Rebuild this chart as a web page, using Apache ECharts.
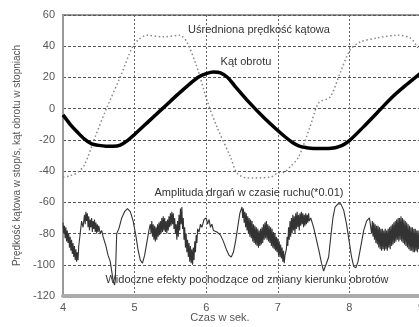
<!DOCTYPE html>
<html>
<head>
<meta charset="utf-8">
<script src="https://cdn.jsdelivr.net/npm/echarts@6/dist/echarts.min.js"></script>
<style>
  html, body { margin: 0; padding: 0; background: #fff; }
  #chart { width: 419px; height: 327px; }
</style>
</head>
<body>
<div id="chart"></div>
<script>
// x axis (seconds) and y axis (degrees) ticks
const xTicks = [4, 5, 6, 7, 8, 9]
const yTicks = [-120, -100, -80, -60, -40, -20, 0, 20, 40, 60]

// Kąt obrotu (thick black line)
const angleTime = [4.0, 4.1, 4.2, 4.3, 4.4, 4.5, 4.6, 4.7, 4.8, 4.9, 5.0, 5.2, 5.4, 5.6, 5.8, 5.9, 6.0, 6.1, 6.2, 6.3, 6.4, 6.6, 6.8, 7.0, 7.1, 7.2, 7.3, 7.4, 7.5, 7.6, 7.7, 7.8, 7.9, 8.0, 8.2, 8.4, 8.6, 8.8, 9.0]
const angleDeg = [-4, -10, -15, -19.5, -22.5, -23.5, -24, -24, -23.3, -20.5, -16.5, -8, 0.5, 9, 17, 20.5, 22.5, 23.5, 23, 20, 14.5, 4, -5.5, -14, -18, -21.5, -24, -25, -25.5, -25.5, -25.5, -25, -23.5, -20.5, -11.5, -2, 7.5, 15.5, 23]

// Uśredniona prędkość kątowa (dotted grey line)
const speedTime = [4.0, 4.1, 4.2, 4.3, 4.45, 4.61, 4.8, 4.97, 5.05, 5.17, 5.4, 5.63, 5.73, 5.87, 6.01, 6.15, 6.34, 6.43, 6.57, 6.9, 7.0, 7.1, 7.17, 7.29, 7.45, 7.57, 7.73, 7.87, 8.01, 8.15, 8.39, 8.67, 8.85, 8.95, 9.0]
const speedVal = [-44, -43, -41, -36, -18, 0.4, 20.3, 39.5, 44, 47, 46, 47, 42.7, 26.7, 5.5, -11.7, -31, -41.2, -44.4, -43.8, -41.2, -40.5, -37.4, -31, -11.7, 3.6, 7.5, 22.8, 37.6, 42.7, 45.3, 47, 45.3, 39.5, 36]

// Amplituda drgań w czasie ruchu (*0.01)
const vibTime = [
  4.00, 4.01, 4.02, 4.03, 4.04, 4.05, 4.06, 4.07, 4.08, 4.09, 4.10, 4.11, 4.12, 4.13, 4.14, 4.15, 4.16, 4.17, 4.18, 4.19, 4.20, 4.21, 4.22,
  4.24, 4.26, 4.28, 4.30, 4.31, 4.32, 4.33, 4.34, 4.35, 4.36, 4.37, 4.38, 4.39, 4.40, 4.41, 4.42, 4.43, 4.44, 4.45, 4.46, 4.47, 4.48, 4.49, 4.50, 4.52, 4.54, 4.56,
  4.60, 4.63, 4.66, 4.68, 4.70, 4.72, 4.73, 4.74, 4.75, 4.78, 4.82, 4.86, 4.90, 4.94, 4.98, 5.02, 5.05, 5.08, 5.11, 5.14, 5.17, 5.20,
  5.22, 5.23, 5.24, 5.25, 5.26, 5.27, 5.28, 5.29, 5.30, 5.31, 5.32, 5.33, 5.34, 5.35, 5.36, 5.37, 5.38, 5.39, 5.40, 5.41, 5.42, 5.43, 5.44, 5.45, 5.46, 5.47, 5.48, 5.49,
  5.50, 5.51, 5.52, 5.53, 5.54, 5.55, 5.56, 5.57, 5.58, 5.59, 5.60, 5.61, 5.62, 5.63, 5.64, 5.65, 5.66, 5.67, 5.68, 5.69, 5.70, 5.71, 5.72, 5.73, 5.74, 5.75, 5.76, 5.77,
  5.78, 5.79, 5.80, 5.81, 5.82, 5.83, 5.84, 5.85, 5.86, 5.87, 5.88, 5.90, 5.92, 5.94,
  5.97, 6.00, 6.02, 6.04, 6.06, 6.08, 6.10, 6.15, 6.20, 6.24, 6.28, 6.32, 6.35, 6.38, 6.41, 6.44, 6.47, 6.50,
  6.51, 6.52, 6.53, 6.54, 6.55, 6.56, 6.57, 6.58, 6.59, 6.60, 6.61, 6.62, 6.63, 6.64, 6.65, 6.66, 6.67, 6.68, 6.69, 6.70, 6.71, 6.72, 6.73, 6.74, 6.75, 6.76, 6.77, 6.78, 6.79,
  6.80, 6.81, 6.82, 6.83, 6.84, 6.85, 6.86, 6.87, 6.88, 6.89, 6.90, 6.91, 6.92, 6.93, 6.94, 6.95, 6.96, 6.97, 6.98, 6.99, 7.00, 7.01, 7.02, 7.03, 7.04, 7.05, 7.06, 7.07, 7.08, 7.09, 7.10,
  7.12, 7.13, 7.14, 7.15, 7.16, 7.17, 7.18, 7.19, 7.20, 7.21, 7.22, 7.23, 7.24, 7.25, 7.26, 7.27, 7.28, 7.29, 7.30, 7.31, 7.32, 7.33, 7.34, 7.35, 7.36, 7.37, 7.38, 7.39, 7.40,
  7.41, 7.42, 7.43, 7.44, 7.46,
  7.50, 7.54, 7.58, 7.61, 7.64, 7.66, 7.68, 7.71, 7.74, 7.77, 7.80, 7.84, 7.88, 7.92, 7.96, 8.00, 8.03, 8.06, 8.09, 8.12, 8.16, 8.20, 8.24, 8.28,
  8.30, 8.31, 8.32, 8.33, 8.34, 8.35, 8.36, 8.37, 8.38, 8.39, 8.40, 8.41, 8.42, 8.43, 8.44, 8.45, 8.46, 8.47, 8.48, 8.49, 8.50, 8.51, 8.52, 8.53, 8.54, 8.55, 8.56, 8.57, 8.58, 8.59,
  8.60, 8.61, 8.62, 8.63, 8.64, 8.65, 8.66, 8.67, 8.68, 8.69, 8.70, 8.71, 8.72, 8.73, 8.74, 8.75, 8.76, 8.77, 8.78, 8.79, 8.80, 8.81, 8.82, 8.83, 8.84, 8.85, 8.86, 8.87, 8.88, 8.89,
  8.90, 8.91, 8.92, 8.93, 8.94, 8.95, 8.96, 8.97, 8.98, 8.99, 9.00
]
const vibVal = [
  -73, -80, -75, -83, -76, -85, -78, -86, -80, -89, -82, -91, -84, -93, -86, -95, -88, -97, -90, -98, -92, -97, -88,
  -80, -72, -76, -68, -74, -66, -72, -67, -76, -69, -78, -71, -76, -70, -79, -72, -77, -71, -79, -73, -80, -74, -79, -75, -80, -78, -82,
  -88, -94, -98, -104, -110, -113, -110, -95, -80, -77, -70, -66, -64, -66, -72, -82, -91, -97, -99, -94, -86, -78,
  -74, -80, -72, -82, -74, -84, -75, -85, -76, -84, -74, -82, -73, -81, -72, -80, -70, -79, -69, -78, -70, -79, -72, -80, -71, -78, -69, -76,
  -67, -75, -66, -74, -67, -77, -70, -80, -74, -84, -72, -82, -68, -78, -64, -74, -63, -77, -70, -84, -76, -89, -80, -92, -84, -95, -86, -98,
  -88, -99, -90, -100, -89, -97, -85, -92, -81, -86, -77, -79, -74, -76,
  -71, -70, -74, -71, -76, -74, -78, -79, -81, -85, -90, -94, -95, -92, -85, -76, -67, -63,
  -70, -64, -73, -66, -76, -67, -78, -69, -80, -70, -82, -71, -83, -72, -85, -74, -86, -75, -87, -76, -88, -77, -89, -78, -88, -77, -87, -76, -86,
  -74, -84, -73, -83, -72, -84, -74, -85, -75, -86, -76, -88, -77, -89, -79, -90, -80, -91, -82, -92, -83, -94, -85, -95, -87, -96, -89, -98, -91, -99, -94,
  -90, -82, -88, -76, -84, -72, -82, -70, -80, -68, -78, -69, -80, -67, -77, -66, -76, -68, -78, -67, -75, -66, -74, -67, -76, -68, -75, -67, -74,
  -68, -73, -67, -72, -70,
  -76, -84, -92, -99, -104, -103, -99, -95, -82, -70, -63, -61, -61, -65, -74, -86, -95, -101, -102, -98, -88, -78, -72, -70,
  -71, -80, -72, -82, -73, -84, -74, -86, -75, -87, -75, -89, -76, -90, -77, -91, -77, -90, -78, -91, -77, -90, -78, -91, -77, -89, -76, -90, -75, -88,
  -74, -87, -73, -86, -72, -85, -71, -84, -70, -85, -70, -84, -69, -85, -70, -86, -71, -87, -72, -88, -73, -89, -74, -90, -75, -91, -76, -91, -76, -92,
  -77, -92, -77, -91, -78, -92, -78, -90, -79, -89, -80
]

const annotations = [
  { text: 'Uśredniona prędkość kątowa', x: 259, y: 30 },
  { text: 'Kąt obrotu', x: 246, y: 62 },
  { text: 'Amplituda drgań w czasie ruchu(*0.01)', x: 249, y: 193 },
  { text: 'Widoczne efekty pochodzące od zmiany kierunku obrotów', x: 247, y: 280 },
  { text: 'Czas w sek.', x: 220, y: 318 },
]

const zip = (xs, ys) => xs.map((x, i) => [x, ys[i]])

const chart = echarts.init(document.getElementById('chart'), null, { renderer: 'canvas' })

const font = 'Liberation Sans, Arial, sans-serif'
const labelStyle = { color: '#555', fontSize: 11, fontFamily: font }

chart.setOption({
  animation: false,
  backgroundColor: '#fff',
  grid: {
    left: 63, top: 15, right: -2, bottom: 31,
    outerBoundsMode: 'none',
    containLabel: false,
    show: true, borderColor: '#999', borderWidth: 2,
  },
  xAxis: {
    type: 'value',
    min: xTicks[0],
    max: xTicks[xTicks.length - 1],
    interval: 1,
    axisLine: { onZero: false, lineStyle: { color: '#aaa', width: 4 } },
    axisTick: { show: false },
    axisLabel: { ...labelStyle, margin: 6, showMaxLabel: true, hideOverlap: false },
    splitLine: { show: true, lineStyle: { color: '#666', width: 1, type: [2, 2] } },
  },
  yAxis: {
    type: 'value',
    min: yTicks[0],
    max: yTicks[yTicks.length - 1],
    interval: 20,
    name: 'Prędkość kątowa w stop/s, kąt obrotu w stopniach',
    nameLocation: 'middle',
    nameGap: 32,
    nameTextStyle: { color: '#555', fontSize: 10, fontFamily: font },
    axisLine: { show: true, lineStyle: { color: '#999', width: 2 } },
    axisTick: { show: false },
    axisLabel: { ...labelStyle, margin: 8 },
    splitLine: { lineStyle: { color: '#555', width: 1, type: [3, 2] } },
  },
  series: [
    {
      name: 'Uśredniona prędkość kątowa',
      type: 'line',
      data: zip(speedTime, speedVal),
      smooth: 0.3,
      symbol: 'none',
      lineStyle: { color: '#888', width: 1.5, type: [1.5, 2.5] },
      z: 2,
    },
    {
      name: 'Kąt obrotu',
      type: 'line',
      data: zip(angleTime, angleDeg),
      smooth: 0.3,
      symbol: 'none',
      lineStyle: { color: '#000', width: 3.5 },
      z: 3,
    },
    {
      name: 'Amplituda drgań',
      type: 'line',
      data: zip(vibTime, vibVal),
      symbol: 'none',
      lineStyle: { color: '#333', width: 1.1 },
      z: 3,
    },
  ],
  graphic: annotations.map((a, i) => ({
    type: 'text',
    x: a.x,
    y: a.y,
    style: {
      text: a.text,
      fill: i === annotations.length - 1 ? '#555' : '#333',
      fontSize: 11,
      fontFamily: font,
      align: 'center',
      verticalAlign: 'middle',
    },
    z: 10,
  })),
})
</script>
</body>
</html>
